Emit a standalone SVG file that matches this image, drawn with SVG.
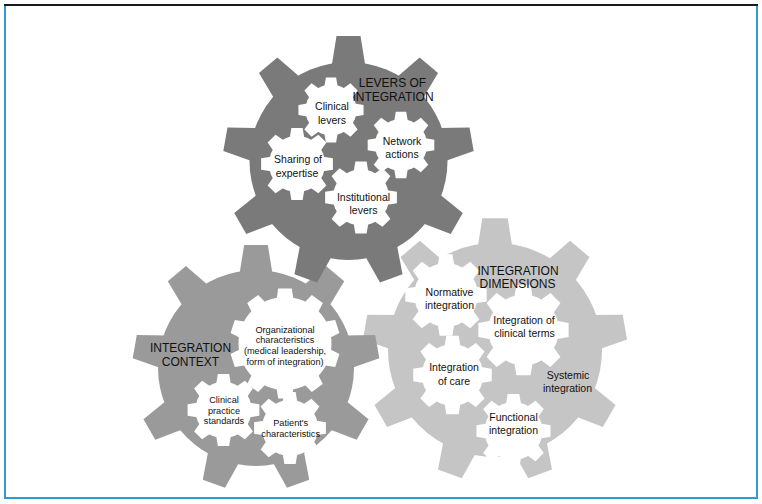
<svg xmlns="http://www.w3.org/2000/svg" xmlns:xlink="http://www.w3.org/1999/xlink" width="762" height="504" viewBox="0 0 762 504">
<style>
  text { font-family: "Liberation Sans", Arial, Helvetica, sans-serif; fill: #111111; text-anchor: middle; }
  .big { font-size: 12px; }
  .lbl { font-size: 10.5px; }
  .sm { font-size: 9.2px; }
  .dark { fill: #7a7a7a; }
  .mid { fill: #9a9a9a; }
  .light { fill: #c5c5c5; }
  .hole { fill: #ffffff; }
</style>
<defs>
  <polygon id="bt" points="-17,-94 -12,-125 12,-125 17,-94"/>
  <g id="teeth9">
    <use href="#bt"/>
    <use href="#bt" transform="rotate(40)"/>
    <use href="#bt" transform="rotate(80)"/>
    <use href="#bt" transform="rotate(120)"/>
    <use href="#bt" transform="rotate(160)"/>
    <use href="#bt" transform="rotate(200)"/>
    <use href="#bt" transform="rotate(240)"/>
    <use href="#bt" transform="rotate(280)"/>
    <use href="#bt" transform="rotate(320)"/>
  </g>
  <polygon id="st" points="-7.5,-27 -5.8,-37 5.8,-37 7.5,-27"/>
  <g id="sgear">
    <circle r="29"/>
    <use href="#st"/>
    <use href="#st" transform="rotate(45)"/>
    <use href="#st" transform="rotate(90)"/>
    <use href="#st" transform="rotate(135)"/>
    <use href="#st" transform="rotate(180)"/>
    <use href="#st" transform="rotate(225)"/>
    <use href="#st" transform="rotate(270)"/>
    <use href="#st" transform="rotate(315)"/>
  </g>
  <polygon id="lt" points="-8.5,-44 -6.8,-55 6.8,-55 8.5,-44"/>
  <g id="lgear">
    <circle r="46.5"/>
    <use href="#lt"/>
    <use href="#lt" transform="rotate(36)"/>
    <use href="#lt" transform="rotate(72)"/>
    <use href="#lt" transform="rotate(108)"/>
    <use href="#lt" transform="rotate(144)"/>
    <use href="#lt" transform="rotate(180)"/>
    <use href="#lt" transform="rotate(216)"/>
    <use href="#lt" transform="rotate(252)"/>
    <use href="#lt" transform="rotate(288)"/>
    <use href="#lt" transform="rotate(324)"/>
  </g>
</defs>

<rect x="5" y="5" width="752" height="493" fill="#ffffff" stroke="#2b9bd9" stroke-width="2"/>
<line x1="4" y1="5" x2="758" y2="5" stroke="#1a1a1a" stroke-width="2"/>

<!-- Integration dimensions (light gear) -->
<g id="gear-dimensions">
  <circle class="light" cx="495" cy="350" r="107"/>
  <use href="#teeth9" class="light" transform="translate(495,350) scale(1.055)"/>
  <g id="normative-integration">
    <use href="#sgear" class="hole" transform="translate(446,295) scale(1.1)"/>
    <text class="lbl" x="449.5" y="296">Normative</text>
    <text class="lbl" x="449.5" y="309">integration</text>
  </g>
  <g id="integration-clinical-terms">
    <use href="#sgear" class="hole" transform="translate(523.5,330) scale(1.22)"/>
    <text class="lbl" x="524" y="323.5">Integration of</text>
    <text class="lbl" x="524.5" y="336.5">clinical terms</text>
  </g>
  <g id="integration-of-care">
    <use href="#sgear" class="hole" transform="translate(452.5,375) scale(1.06)"/>
    <text class="lbl" x="454" y="371">Integration</text>
    <text class="lbl" x="454" y="384.5">of care</text>
  </g>
  <g id="functional-integration">
    <use href="#sgear" class="hole" transform="translate(513.5,431) scale(1)"/>
    <text class="lbl" x="513.5" y="420.5">Functional</text>
    <text class="lbl" x="513.5" y="433.5">integration</text>
  </g>
  <g id="systemic-integration">
    <text class="lbl" x="568" y="379">Systemic</text>
    <text class="lbl" x="567.5" y="392">integration</text>
  </g>
  <text class="big" x="518" y="274.5">INTEGRATION</text>
  <text class="big" x="517.5" y="288">DIMENSIONS</text>
</g>

<!-- Integration context (medium gear) -->
<g id="gear-context">
  <circle class="mid" cx="256" cy="368" r="98"/>
  <use href="#teeth9" class="mid" transform="translate(256,368) scale(0.985)"/>
  <g id="organizational-characteristics">
    <use href="#lgear" class="hole" transform="translate(285,343.5)"/>
    <text class="sm" x="285" y="332.5">Organizational</text>
    <text class="sm" x="285" y="343.2">characteristics</text>
    <text class="sm" x="285" y="354">(medical leadership,</text>
    <text class="sm" x="285" y="364.5">form of integration)</text>
  </g>
  <g id="clinical-practice-standards">
    <use href="#sgear" class="hole" transform="translate(223.5,410) scale(0.97)"/>
    <text class="sm" x="224" y="402.5">Clinical</text>
    <text class="sm" x="224" y="413.5">practice</text>
    <text class="sm" x="224" y="424">standards</text>
  </g>
  <g id="patients-characteristics">
    <use href="#sgear" class="hole" transform="translate(290,428) scale(0.97)"/>
    <text class="sm" x="290.7" y="426">Patient's</text>
    <text class="sm" x="290.7" y="436.5">characteristics</text>
  </g>
  <text class="big" x="190.5" y="352.3">INTEGRATION</text>
  <text class="big" x="190.5" y="365.7">CONTEXT</text>
</g>

<!-- Levers of integration (dark gear) -->
<g id="gear-levers">
  <circle class="dark" cx="348.5" cy="161" r="99"/>
  <use href="#teeth9" class="dark" transform="translate(348.5,161)"/>
  <g id="clinical-levers">
    <use href="#sgear" class="hole" transform="translate(331,110) scale(0.88)"/>
    <text class="lbl" x="332" y="110">Clinical</text>
    <text class="lbl" x="332" y="123.5">levers</text>
  </g>
  <g id="network-actions">
    <use href="#sgear" class="hole" transform="translate(401,145) scale(0.9)"/>
    <text class="lbl" x="402" y="145">Network</text>
    <text class="lbl" x="402" y="158.3">actions</text>
  </g>
  <g id="sharing-of-expertise">
    <use href="#sgear" class="hole" transform="translate(297,164) scale(0.97)"/>
    <text class="lbl" x="298" y="163.3">Sharing of</text>
    <text class="lbl" x="297" y="176.5">expertise</text>
  </g>
  <g id="institutional-levers">
    <use href="#sgear" class="hole" transform="translate(361,197.5) scale(0.97)"/>
    <text class="lbl" x="363.5" y="200.7">Institutional</text>
    <text class="lbl" x="363.5" y="214">levers</text>
  </g>
  <text class="big" x="392.5" y="87.3">LEVERS OF</text>
  <text class="big" x="393" y="100.7">INTEGRATION</text>
</g>

<g id="connectors"/>
</svg>
